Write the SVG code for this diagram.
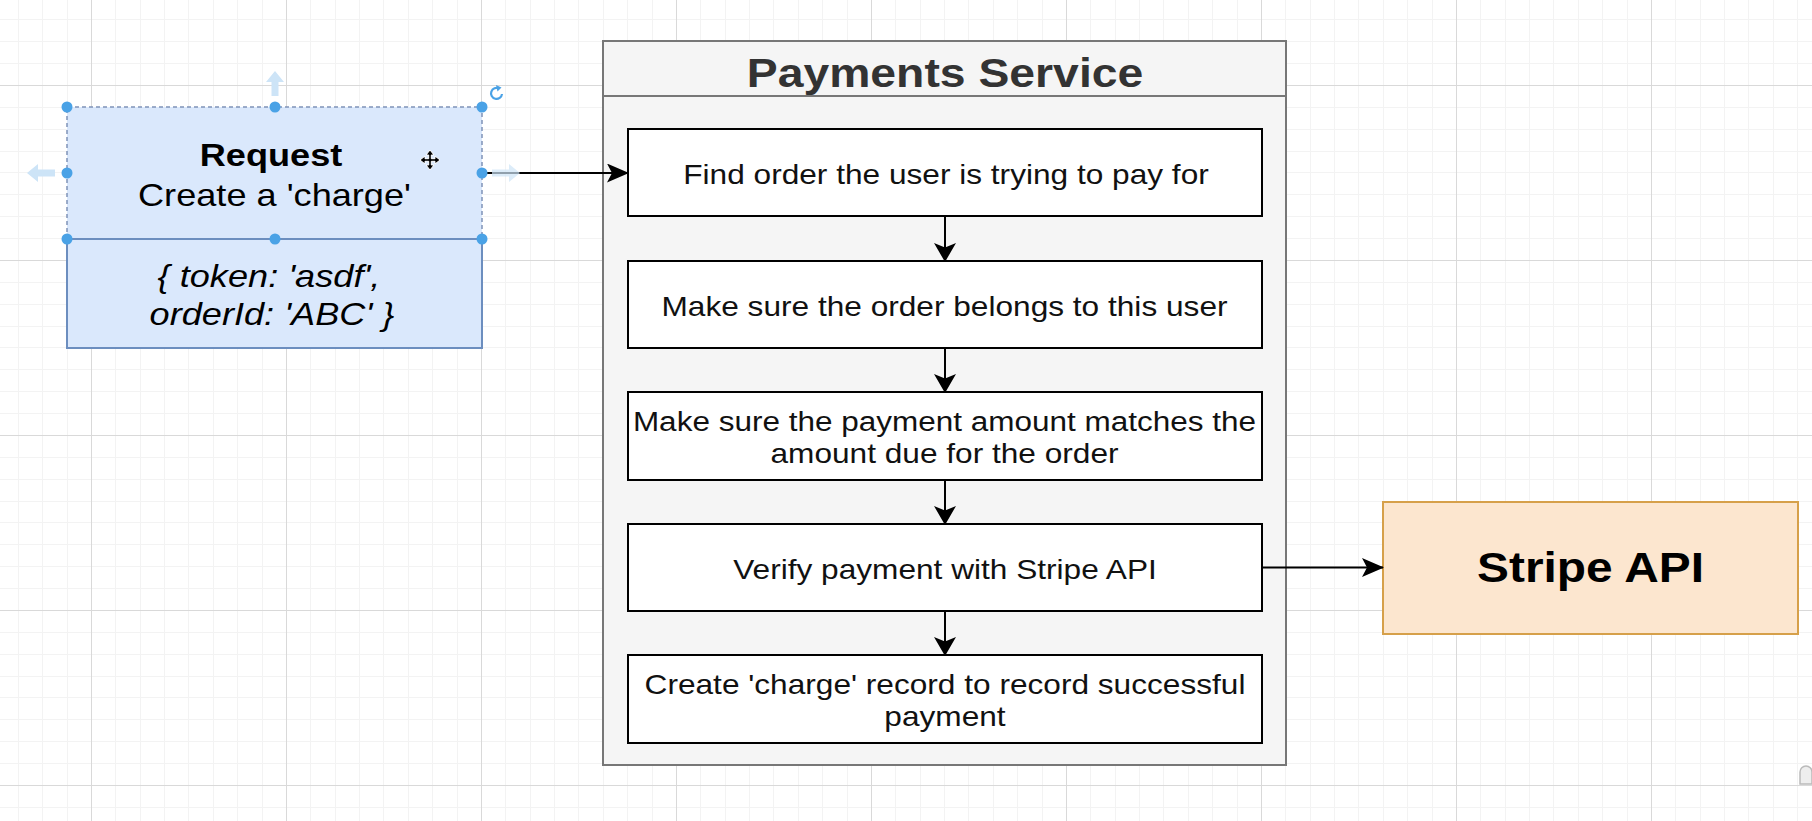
<svg xmlns="http://www.w3.org/2000/svg" width="1812" height="821" viewBox="0 0 1812 821">
<style>
.lbl{font-family:"Liberation Sans",Arial,Helvetica,sans-serif;text-anchor:middle;}
.box{fill:#ffffff;stroke:#000000;stroke-width:2;}
.step{font-size:28px;fill:#111111;}
.conn{stroke:#000000;stroke-width:2;fill:none;}
.hdl{fill:#4aa2e6;}
.hint{fill:#cde4f7;}
</style>
<defs>
<pattern id="grid" x="91" y="85" width="195" height="175" patternUnits="userSpaceOnUse">
<rect x="24" y="0" width="1" height="175" fill="#f3f3f3"/>
<rect x="49" y="0" width="1" height="175" fill="#f3f3f3"/>
<rect x="73" y="0" width="1" height="175" fill="#f3f3f3"/>
<rect x="97" y="0" width="1" height="175" fill="#f3f3f3"/>
<rect x="122" y="0" width="1" height="175" fill="#f3f3f3"/>
<rect x="146" y="0" width="1" height="175" fill="#f3f3f3"/>
<rect x="171" y="0" width="1" height="175" fill="#f3f3f3"/>
<rect x="0" y="22" width="195" height="1" fill="#f3f3f3"/>
<rect x="0" y="44" width="195" height="1" fill="#f3f3f3"/>
<rect x="0" y="66" width="195" height="1" fill="#f3f3f3"/>
<rect x="0" y="87" width="195" height="1" fill="#f3f3f3"/>
<rect x="0" y="109" width="195" height="1" fill="#f3f3f3"/>
<rect x="0" y="131" width="195" height="1" fill="#f3f3f3"/>
<rect x="0" y="153" width="195" height="1" fill="#f3f3f3"/>
<rect x="0" y="0" width="1" height="175" fill="#d9d9d9"/>
<rect x="0" y="0" width="195" height="1" fill="#d9d9d9"/>
</pattern>
<marker id="ah" viewBox="0 0 22 19" refX="21" refY="9.5" markerWidth="22" markerHeight="19" markerUnits="userSpaceOnUse" orient="auto">
<path d="M0,0 L22,9.5 L0,19 L5,9.5 Z" fill="#000000"/>
</marker>
<marker id="av" viewBox="0 0 19 22" refX="18" refY="11" markerWidth="19" markerHeight="22" markerUnits="userSpaceOnUse" orient="auto">
<path d="M0,0 L19,11 L0,22 L4.5,11 Z" fill="#000000"/>
</marker>
</defs>
<rect x="0" y="0" width="1812" height="821" fill="#ffffff"/>
<rect x="0" y="0" width="1812" height="821" fill="url(#grid)"/>

<g id="request">
<rect x="67" y="107" width="415" height="241" fill="#dae8fc"/>
<path d="M67,239 L67,348 L482,348 L482,239 Z" fill="none" stroke="#6c8ebf" stroke-width="2"/>
<path d="M67,239 L67,107 L482,107 L482,239" fill="none" stroke="#7f93b8" stroke-width="1.5" stroke-dasharray="4 3"/>
<text class="lbl" transform="translate(271 166) scale(1.13 1)" font-size="32" font-weight="bold" fill="#000">Request</text>
<text class="lbl" transform="translate(274.5 206) scale(1.13 1)" font-size="32" fill="#000">Create a 'charge'</text>
<text class="lbl" transform="translate(269 287) scale(1.13 1)" font-size="32" font-style="italic" fill="#000">{ token: 'asdf',</text>
<text class="lbl" transform="translate(272 325) scale(1.13 1)" font-size="32" font-style="italic" fill="#000">orderId: 'ABC' }</text>
</g>

<g id="payments-service">
<rect x="603" y="41" width="683" height="724" fill="#f5f5f5" stroke="#777777" stroke-width="2"/>
<line x1="603" y1="96" x2="1286" y2="96" stroke="#777777" stroke-width="2"/>
<text class="lbl" transform="translate(945 87) scale(1.13 1)" font-size="41" font-weight="bold" fill="#333333">Payments Service</text>
</g>

<g id="step-find">
<rect class="box" x="628" y="129" width="634" height="87"/>
<text class="lbl step" transform="translate(946 184) scale(1.13 1)">Find order the user is trying to pay for</text>
</g>
<g id="step-owner">
<rect class="box" x="628" y="261" width="634" height="87"/>
<text class="lbl step" transform="translate(944.5 316) scale(1.13 1)">Make sure the order belongs to this user</text>
</g>
<g id="step-amount">
<rect class="box" x="628" y="392" width="634" height="88"/>
<text class="lbl step" transform="translate(944.5 431) scale(1.125 1)">Make sure the payment amount matches the</text>
<text class="lbl step" transform="translate(944.5 463) scale(1.13 1)">amount due for the order</text>
</g>
<g id="step-verify">
<rect class="box" x="628" y="524" width="634" height="87"/>
<text class="lbl step" transform="translate(945 579) scale(1.13 1)">Verify payment with Stripe API</text>
</g>
<g id="step-charge">
<rect class="box" x="628" y="655" width="634" height="88"/>
<text class="lbl step" transform="translate(945 694) scale(1.13 1)">Create 'charge' record to record successful</text>
<text class="lbl step" transform="translate(945 726) scale(1.13 1)">payment</text>
</g>

<g id="stripe-api">
<rect x="1383" y="502" width="415" height="132" fill="#fce6cf" stroke="#d6a04a" stroke-width="2"/>
<text class="lbl" transform="translate(1590.5 582) scale(1.14 1)" font-size="42" font-weight="bold" fill="#000">Stripe API</text>
</g>

<g id="connectors">
<line class="conn" x1="482" y1="173" x2="628" y2="173" marker-end="url(#ah)"/>
<line class="conn" x1="945" y1="216" x2="945" y2="261" marker-end="url(#av)"/>
<line class="conn" x1="945" y1="348" x2="945" y2="392" marker-end="url(#av)"/>
<line class="conn" x1="945" y1="480" x2="945" y2="524" marker-end="url(#av)"/>
<line class="conn" x1="945" y1="611" x2="945" y2="655" marker-end="url(#av)"/>
<line class="conn" x1="1262" y1="567.5" x2="1383" y2="567.5" marker-end="url(#ah)"/>
</g>

<g id="selection-ui">
<path class="hint" d="M275,71 L284,82 L278.5,82 L278.5,96 L271.5,96 L271.5,82 L266,82 Z"/>
<path class="hint" d="M27,173 L38,164 L38,169.5 L55,169.5 L55,176.5 L38,176.5 L38,182 Z"/>
<path class="hint" d="M520,173 L509,164 L509,169.5 L492,169.5 L492,176.5 L509,176.5 L509,182 Z" opacity="0.7"/>
<circle class="hdl" cx="67" cy="107" r="5.5"/>
<circle class="hdl" cx="275" cy="107" r="5.5"/>
<circle class="hdl" cx="482" cy="107" r="5.5"/>
<circle class="hdl" cx="67" cy="173" r="5.5"/>
<circle class="hdl" cx="482" cy="173" r="5.5"/>
<circle class="hdl" cx="67" cy="239" r="5.5"/>
<circle class="hdl" cx="275" cy="239" r="5.5"/>
<circle class="hdl" cx="482" cy="239" r="5.5"/>
<path d="M502,94 A5.5,5.5 0 1 1 499,88.5" fill="none" stroke="#4aa2e6" stroke-width="2.2"/>
<path d="M496,85 L501.5,87.5 L497.5,91.5 Z" fill="#4aa2e6"/>
<path d="M430,150 L434,155 L431.3,155 L431.3,158.7 L435,158.7 L435,156 L440,160 L435,164 L435,161.3 L431.3,161.3 L431.3,165 L434,165 L430,170 L426,165 L428.7,165 L428.7,161.3 L425,161.3 L425,164 L420,160 L425,156 L425,158.7 L428.7,158.7 L428.7,155 L426,155 Z" fill="#000" stroke="#ffffff" stroke-width="1"/>
<path d="M1800,784 L1800,772 A6,6 0 0 1 1812,772 L1812,784 Z" fill="#eeeeee" stroke="#bbbbbb" stroke-width="1.5"/>
</g>
</svg>
